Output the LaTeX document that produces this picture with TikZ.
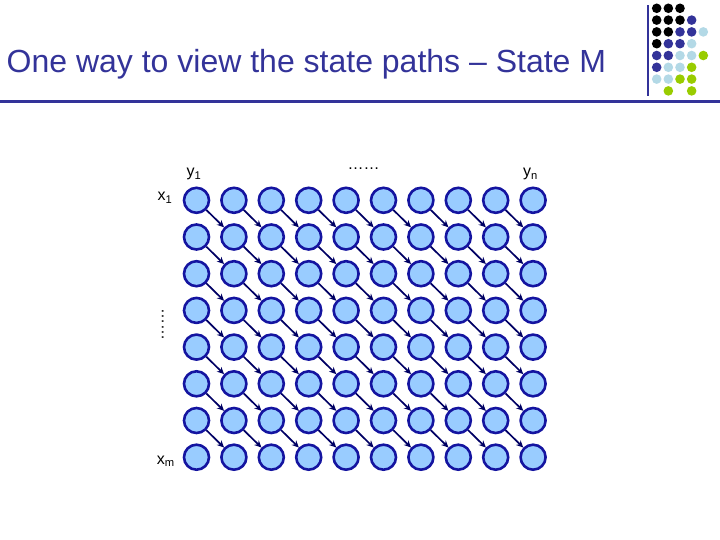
\documentclass[tikz,border=0pt]{standalone}
\usepackage{fontspec}
\setmainfont{Liberation Sans}
\usetikzlibrary{arrows.meta,positioning}
\definecolor{navy}{RGB}{51,51,153}
\definecolor{cellfill}{RGB}{153,204,255}
\definecolor{celldraw}{RGB}{20,20,160}
\definecolor{arrowc}{RGB}{0,0,100}
\definecolor{dotlight}{RGB}{179,217,230}
\definecolor{dotgreen}{RGB}{153,204,0}

\begin{document}
\begin{tikzpicture}[x=1pt, y=-1pt,
  state/.style={circle, draw=celldraw, fill=cellfill, line width=2.6pt, minimum size=25pt, inner sep=0pt},
  arr/.style={-{Stealth[length=7pt,width=6.5pt]}, line width=1.7pt, draw=arrowc},
  lbl/.style={font=\fontsize{16}{19}\selectfont, inner sep=0pt},
  every node/.style={inner sep=0pt}
]
\useasboundingbox (0,0) rectangle (720,540);

% Title bar
\node[anchor=base west, text=navy, font=\fontsize{32}{38}\selectfont] (title) at (6.5,72.5) {One way to view the state paths – State M};
\fill[navy] (0,100.5) rectangle (720,103);
\fill[navy] (646.8,5) rectangle (649.3,96);

% Corner dots
\foreach \r/\c/\col in {0/0/black,0/1/black,0/2/black,
  1/0/black,1/1/black,1/2/black,1/3/navy,
  2/0/black,2/1/black,2/2/navy,2/3/navy,2/4/dotlight,
  3/0/black,3/1/navy,3/2/navy,3/3/dotlight,
  4/0/navy,4/1/navy,4/2/dotlight,4/3/dotlight,4/4/dotgreen,
  5/0/navy,5/1/dotlight,5/2/dotlight,5/3/dotgreen,
  6/0/dotlight,6/1/dotlight,6/2/dotgreen,6/3/dotgreen,
  7/1/dotgreen,7/3/dotgreen}
  \fill[\col] ({656.7+11.65*\c},{8.3+11.8*\r}) circle (4.8);

% State grid
\foreach \r in {1,...,8}
  \foreach \c in {1,...,10}
    \node[state] (s-\r-\c) at ({196.5+37.4*(\c-1)},{200.3+36.7*(\r-1)}) {};

% Diagonal paths
\foreach \r in {1,...,7} {
  \foreach \c in {1,...,9} {
    \pgfmathtruncatemacro\nr{\r+1}
    \pgfmathtruncatemacro\nc{\c+1}
    \draw[arr] (s-\r-\c) -- (s-\nr-\nc);
  }
}

% Axis labels
\node[lbl, anchor=base west] (y1) at (186.5,176.5) {y\textsubscript{1}};
\node[lbl, anchor=base] (ydots) at (363.5,170) {……};
\node[lbl, anchor=base west] (yn) at (523,177) {y\textsubscript{n}};
\node[lbl, anchor=base east] (x1) at (172.5,200.5) {x\textsubscript{1}};
\node[lbl, anchor=base, rotate=90] (xdots) at (163.5,324.5) {……};
\node[lbl, anchor=base east] (xm) at (175,464) {x\textsubscript{m}};

\end{tikzpicture}
\end{document}
